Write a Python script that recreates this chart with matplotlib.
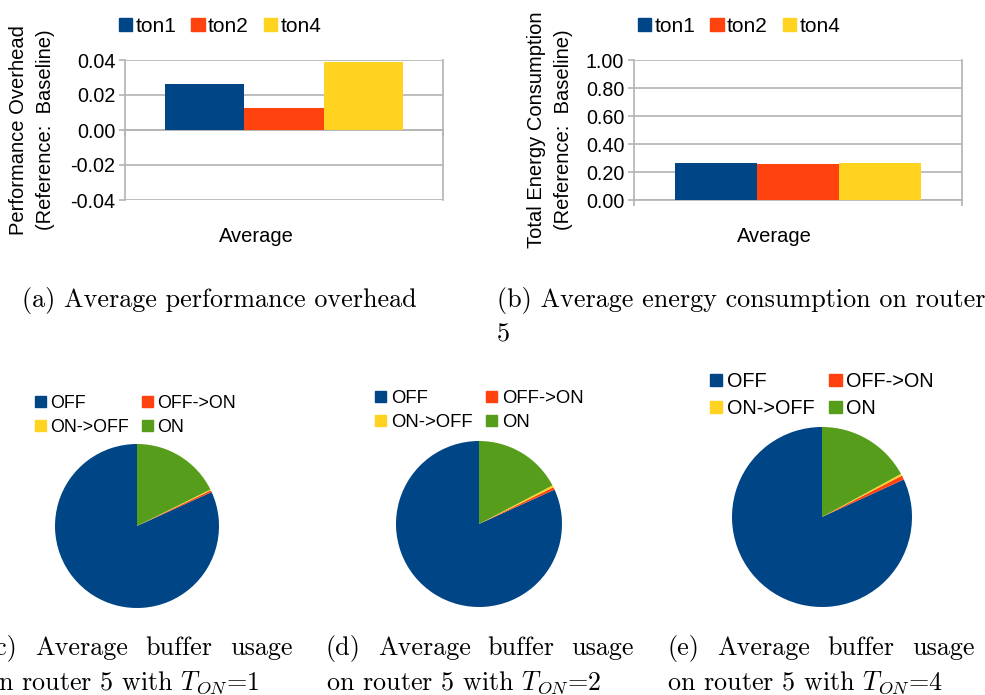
import matplotlib
matplotlib.use("Agg")
import matplotlib.pyplot as plt
from matplotlib.patches import Patch

# ---- data ----
series_names = ["ton1", "ton2", "ton4"]
category = "Average"
perf_overhead = [0.0265, 0.0128, 0.039]
energy = [0.265, 0.258, 0.263]

perf_ticks = [-0.04, -0.02, 0.00, 0.02, 0.04]
perf_ticklabels = ["-0.04", "-0.02", "0.00", "0.02", "0.04"]
energy_ticks = [0.0, 0.2, 0.4, 0.6, 0.8, 1.0]
energy_ticklabels = ["0.00", "0.20", "0.40", "0.60", "0.80", "1.00"]

state_names = ["OFF", "OFF->ON", "ON->OFF", "ON"]
usage_ton1 = [81.8, 0.35, 0.20, 17.65]
usage_ton2 = [81.8, 0.50, 0.40, 17.30]
usage_ton4 = [81.85, 0.75, 0.35, 17.05]

colors = ["#004586", "#ff420e", "#ffd320", "#579d1c"]
bar_colors = colors[:3]
GRID = "#b3b3b3"

W, H = 985, 695
plt.rcParams["font.family"] = ["Liberation Sans", "DejaVu Sans"]
plt.rcParams["mathtext.fontset"] = "cm"

fig = plt.figure(figsize=(W / 100, H / 100), dpi=100)


def px_axes(x0, y0, x1, y1):
    return fig.add_axes([x0 / W, 1 - y1 / H, (x1 - x0) / W, (y1 - y0) / H])


def bar_panel(box, values, ticks, ticklabels, ylim, ylabel, label_x, cat_x, legend_x):
    ax = px_axes(*box)
    n = len(values)
    width = 0.25
    xs = [(i - (n - 1) / 2) * width for i in range(n)]
    for x, v, c, name in zip(xs, values, bar_colors, series_names):
        ax.bar(x, v, width=width, color=c, label=name, zorder=3, linewidth=0)
    ax.set_xlim(-0.5, 0.5)
    ax.set_ylim(*ylim)
    ax.set_yticks(ticks)
    ax.set_yticklabels(ticklabels, fontsize=14.2)
    ax.yaxis.grid(True, color=GRID, linewidth=1.2, zorder=0)
    ax.spines["top"].set_visible(False)
    for s in ["left", "right", "bottom"]:
        ax.spines[s].set_color(GRID)
        ax.spines[s].set_linewidth(1.2)
    ax.spines["bottom"].set_position(("data", 0))
    ax.set_xticks([-0.5, 0.5])
    ax.set_xticklabels([])
    ax.tick_params(axis="x", length=4, color=GRID, width=1.2, direction="out")
    ax.tick_params(axis="y", length=4, color=GRID, width=1.2, pad=3)
    fig.text(label_x / W, 1 - 130 / H, ylabel, fontsize=14.5, rotation=90,
             ha="center", va="center", linespacing=1.5, multialignment="center")
    fig.text(cat_x / W, 1 - 237 / H, category, fontsize=14.5, ha="center", va="center")
    handles = [Patch(color=c) for c in bar_colors]
    fig.legend(handles, series_names, loc="center left",
               bbox_to_anchor=(legend_x / W, 1 - 26.5 / H), ncol=3, frameon=False,
               fontsize=15, handlelength=0.64, handleheight=0.6,
               handletextpad=0.16, columnspacing=0.71, borderpad=0, borderaxespad=0)
    return ax


bar_panel((125, 60, 443, 200), perf_overhead, perf_ticks, perf_ticklabels,
          (-0.04, 0.04), "Performance Overhead\n(Reference:  Baseline)", 32, 256, 119)
bar_panel((634, 60, 962, 200), energy, energy_ticks, energy_ticklabels,
          (0.0, 1.0), "Total Energy Consumption\n(Reference:  Baseline)", 550, 774, 638)


def pie_panel(cx, cy, r, values, legend_x, legend_cy, fs):
    ax = px_axes(cx - r, cy - r, cx + r, cy + r)
    ax.pie(values, colors=colors, startangle=90, counterclock=True,
           wedgeprops=dict(linewidth=0))
    ax.set_xlim(-1, 1)
    ax.set_ylim(-1, 1)
    handles = [Patch(color=c) for c in colors]
    order = [0, 2, 1, 3]
    fig.legend([handles[i] for i in order], [state_names[i] for i in order],
               loc="center left", bbox_to_anchor=(legend_x / W, 1 - legend_cy / H),
               ncol=2, frameon=False, fontsize=fs, handlelength=0.62, handleheight=0.58,
               handletextpad=0.25, columnspacing=0.72, labelspacing=0.38,
               borderpad=0, borderaxespad=0)


pie_panel(137, 526, 82, usage_ton1, 35, 415.5, 12.8)
pie_panel(479, 524, 83, usage_ton2, 375, 410.5, 13.3)
pie_panel(822, 517, 90, usage_ton4, 710, 395, 14.3)

# ---- sub-figure captions ----
cap = dict(family="cmr10", fontsize=18.8, va="center", ha="left")
fig.text(22 / W, 1 - 300 / H, "(a) Average performance overhead", **cap)
fig.text(497 / W, 1 - 300 / H, "(b) Average energy consumption on router", **cap)
fig.text(497 / W, 1 - 335 / H, "5", **cap)

renderer = fig.canvas.get_renderer()


def justified(words, x0, x1, y):
    """Spread words across [x0, x1] like a justified text line."""
    texts = [fig.text(0, 1 - y / H, w, **cap) for w in words]
    widths = [t.get_window_extent(renderer).width for t in texts]
    gap = (x1 - x0 - sum(widths)) / (len(words) - 1)
    x = x0
    for t, w in zip(texts, widths):
        t.set_x(x / W)
        x += w + gap


for x0, tag, t in [(-15, "(c)", "1"), (326, "(d)", "2"), (667, "(e)", "4")]:
    justified([tag, "Average", "buffer", "usage"], x0, x0 + 308, 648)
    fig.text(x0 / W, 1 - 683 / H, "on router 5 with $T_{ON}$=" + t, **cap)

fig.savefig("out.png", dpi=100)
